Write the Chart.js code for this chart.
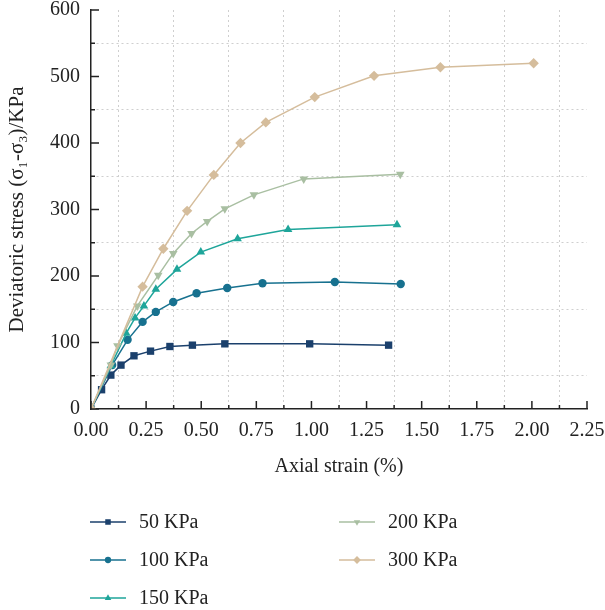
<!DOCTYPE html>
<html>
<head>
<meta charset="utf-8">
<script src="https://cdn.jsdelivr.net/npm/chart.js@4"></script>
<style>
  html, body { margin: 0; padding: 0; background: #fff; }
  #wrap { width: 605px; height: 610px; position: relative; }
</style>
</head>
<body>
<div id="wrap"><canvas id="chart"></canvas></div>
<script>
// Valores (deformação axial % / tensão desviadora KPa)
const seriesLabels = ['50 KPa', '100 KPa', '150 KPa', '200 KPa', '300 KPa'];

const strain50 = [0, 0.048, 0.09, 0.136, 0.195, 0.27, 0.358, 0.46, 0.607, 0.992, 1.35];
const stress50 = [0, 29, 51, 66, 80, 87, 94, 96, 98, 98, 96];

const strain100 = [0, 0.096, 0.166, 0.234, 0.294, 0.373, 0.479, 0.618, 0.778, 1.106, 1.405];
const stress100 = [0, 66, 104, 131, 146, 161, 174, 182, 189, 191, 188];

const strain150 = [0, 0.09, 0.16, 0.2, 0.24, 0.294, 0.39, 0.498, 0.665, 0.894, 1.388];
const stress150 = [0, 65, 114, 137, 155, 180, 210, 236, 256, 270, 277];

const strain200 = [0, 0.09, 0.12, 0.21, 0.305, 0.373, 0.456, 0.527, 0.607, 0.739, 0.965, 1.403];
const stress200 = [0, 66, 95, 155, 201, 234, 264, 282, 301, 322, 346, 353];

const strain300 = [0, 0.234, 0.328, 0.436, 0.557, 0.678, 0.793, 1.015, 1.284, 1.585, 2.008];
const stress300 = [0, 184, 241, 298, 352, 400, 431, 469, 501, 514, 520];

const xTicksMax = 2.25;
const yTicksMax = 600;

const colors = ['#1b406c', '#17718f', '#1ea59a', '#a9bfa2', '#d5bd9c'];
const pointStyles = ['rect', 'circle', 'triangle', 'triangle', 'rectRot'];
const pointRotations = [0, 0, 0, 180, 0];
const pointRadii = [5.2, 4.2, 5, 5, 5.2];

const serifFont = "'Liberation Serif', 'DejaVu Serif', serif";

function toPoints(xs, ys) {
    return xs.map((x, i) => ({ x: x, y: ys[i] }));
}

const allX = [strain50, strain100, strain150, strain200, strain300];
const allY = [stress50, stress100, stress150, stress200, stress300];

const datasets = seriesLabels.map((label, i) => ({
    label: label,
    data: toPoints(allX[i], allY[i]),
    borderColor: colors[i],
    backgroundColor: colors[i],
    borderWidth: 1.5,
    pointStyle: pointStyles[i],
    rotation: pointRotations[i],
    pointRadius: pointRadii[i],
    pointBorderWidth: 0,
    tension: 0,
    order: 5 - i
}));

// Ticks para dentro do gráfico (maior / menor)
const innerTicks = {
    id: 'innerTicks',
    afterDraw(chart) {
        const ctx = chart.ctx;
        const xs = chart.scales.x;
        const ys = chart.scales.y;
        ctx.save();
        ctx.strokeStyle = '#222';
        ctx.lineWidth = 1.5;
        xs.ticks.forEach((t, i) => {
            const px = xs.getPixelForValue(t.value);
            const len = i % 2 === 0 ? 8 : 4;
            ctx.beginPath();
            ctx.moveTo(px, ys.bottom);
            ctx.lineTo(px, ys.bottom - len);
            ctx.stroke();
        });
        ys.ticks.forEach((t, i) => {
            const py = ys.getPixelForValue(t.value);
            const len = i % 2 === 0 ? 8 : 4;
            ctx.beginPath();
            ctx.moveTo(xs.left, py);
            ctx.lineTo(xs.left + len, py);
            ctx.stroke();
        });
        ctx.restore();
    }
};

// Legenda em duas colunas
const columnLegend = {
    id: 'columnLegend',
    afterDraw(chart) {
        const ctx = chart.ctx;
        const slots = [
            { x: 90, y: 522 }, { x: 90, y: 560 }, { x: 90, y: 598 },
            { x: 339, y: 522 }, { x: 339, y: 560 }
        ];
        ctx.save();
        chart.data.datasets.forEach((ds, i) => {
            const s = slots[i];
            ctx.strokeStyle = ds.borderColor;
            ctx.lineWidth = 1.5;
            ctx.beginPath();
            ctx.moveTo(s.x, s.y);
            ctx.lineTo(s.x + 36, s.y);
            ctx.stroke();
            ctx.fillStyle = ds.backgroundColor;
            Chart.helpers.drawPoint(ctx, {
                pointStyle: ds.pointStyle,
                rotation: ds.rotation,
                radius: ds.pointRadius * 0.75,
                borderWidth: 0
            }, s.x + 18, s.y);
            ctx.fillStyle = '#222';
            ctx.font = '20px ' + serifFont;
            ctx.textAlign = 'left';
            ctx.textBaseline = 'middle';
            ctx.fillText(ds.label, s.x + 49, s.y + 1);
        });
        ctx.restore();
    }
};

new Chart(document.getElementById('chart'), {
    type: 'line',
    data: { datasets: datasets },
    options: {
        responsive: true,
        maintainAspectRatio: false,
        animation: false,
        layout: { padding: { left: 0, right: 0, top: 0, bottom: 131 } },
        plugins: {
            legend: { display: false },
            tooltip: { enabled: false }
        },
        scales: {
            x: {
                type: 'linear',
                min: 0,
                max: xTicksMax,
                afterFit: function(scale) {
                    scale.height = 70;
                    scale.paddingRight = 18;
                },
                ticks: {
                    stepSize: 0.125,
                    autoSkip: false,
                    maxRotation: 0,
                    padding: 10,
                    color: '#222',
                    font: { family: serifFont, size: 20 },
                    callback: function(value, index) {
                        return index % 2 === 0 ? value.toFixed(2) : '';
                    }
                },
                grid: {
                    drawTicks: false,
                    color: function(c) { return c.index % 2 === 1 ? '#cfcfcf' : 'rgba(0,0,0,0)'; },
                    lineWidth: 1
                },
                border: { display: true, color: '#222', width: 1.5, dash: [2, 3] },
                title: {
                    display: true,
                    text: 'Axial strain (%)',
                    color: '#222',
                    font: { family: serifFont, size: 20 },
                    padding: { top: 4, bottom: 0 }
                }
            },
            y: {
                type: 'linear',
                min: 0,
                max: yTicksMax,
                afterFit: function(scale) {
                    scale.width = 91;
                    scale.paddingTop = 10;
                },
                ticks: {
                    stepSize: 50,
                    autoSkip: false,
                    padding: 11,
                    color: '#222',
                    font: { family: serifFont, size: 20 },
                    callback: function(value, index) {
                        return index % 2 === 0 ? String(value) : '';
                    }
                },
                grid: {
                    drawTicks: false,
                    color: function(c) { return c.index % 2 === 1 ? '#cfcfcf' : 'rgba(0,0,0,0)'; },
                    lineWidth: 1
                },
                border: { display: true, color: '#222', width: 1.5, dash: [2, 3] },
                title: {
                    display: true,
                    text: 'Deviatoric stress (σ₁-σ₃)/KPa',
                    color: '#222',
                    font: { family: serifFont, size: 21 },
                    padding: { top: 5, bottom: 0 }
                }
            }
        }
    },
    plugins: [innerTicks, columnLegend]
});
</script>
</body>
</html>
